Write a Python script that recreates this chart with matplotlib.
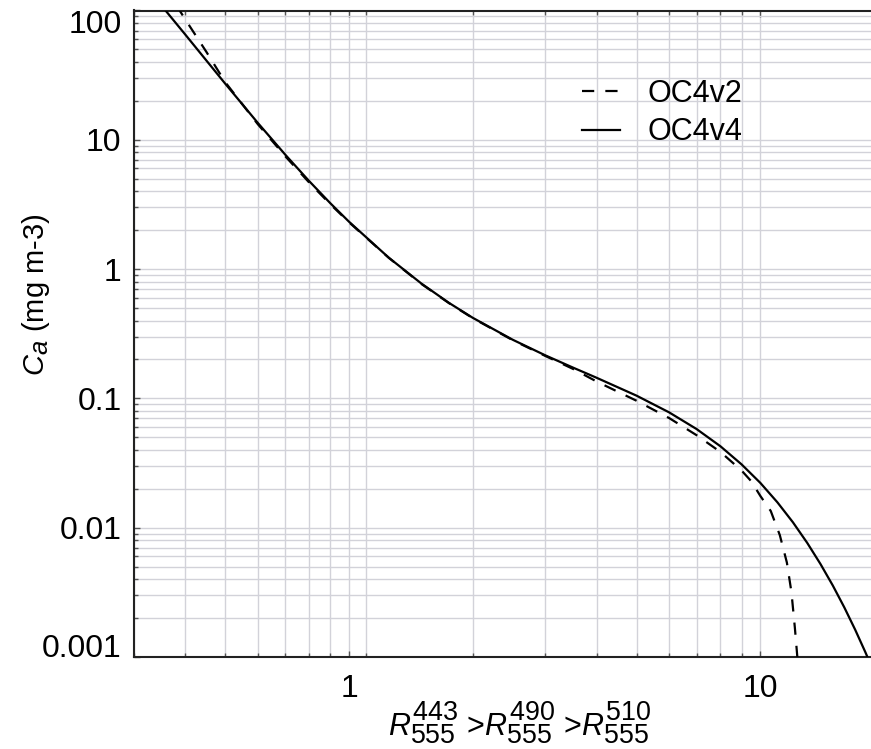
import numpy as np
import matplotlib
matplotlib.use('Agg')
import matplotlib.pyplot as plt
import matplotlib._mathtext as mathtext_internals
from matplotlib.ticker import FixedLocator, FixedFormatter, NullFormatter

plt.rcParams['font.family'] = ['Liberation Sans', 'DejaVu Sans']
plt.rcParams['mathtext.fontset'] = 'custom'
plt.rcParams['mathtext.rm'] = 'Liberation Sans'
plt.rcParams['mathtext.it'] = 'Liberation Sans:italic'
# the reference draws its sub/superscripts close to full size
mathtext_internals.SHRINK_FACTOR = 0.88

# band ratio (x) and chlorophyll (y)
ratio_v4 = [0.30, 0.35, 0.40, 0.45, 0.50, 0.60, 0.70, 0.80, 0.90, 1.00, 1.25,
            1.50, 1.75, 2.00, 2.50, 3.00, 3.50, 4.00, 5.00, 6.00, 7.00, 8.00,
            9.00, 10.0, 11.0, 12.0, 13.0, 14.0, 15.0, 16.0, 17.0, 18.0, 18.5]
chl_v4 = [195, 109, 65.0, 41.0, 27.16, 13.51, 7.66, 4.79, 3.237, 2.323, 1.223,
          0.7723, 0.5477, 0.4195, 0.2842, 0.2153, 0.1733, 0.1443, 0.1050, 0.0780,
          0.0579, 0.0426, 0.0309, 0.0222, 0.01572, 0.01101, 0.00763, 0.00524,
          0.003574, 0.002419, 0.001628, 0.001090, 0.000890]

ratio_v2 = [0.38, 0.40, 0.45, 0.50, 0.60, 0.70, 0.80, 0.90, 1.00, 1.25, 1.50,
            1.75, 2.00, 2.50, 3.00, 3.50, 4.00, 5.00, 6.00, 7.00, 8.00, 9.00,
            9.50, 10.0, 10.6, 11.15, 11.6, 11.9, 12.13, 12.3, 12.4]
chl_v2 = [110, 85.1, 47.8, 27.9, 13.2, 7.45, 4.67, 3.18, 2.30, 1.22, 0.767,
          0.545, 0.417, 0.282, 0.213, 0.1694, 0.135, 0.0959, 0.0705, 0.0519,
          0.0385, 0.0277, 0.0229, 0.0176, 0.01346, 0.00877, 0.00538, 0.00318,
          0.00169, 0.00100, 0.0005]

series_names = ['OC4v2', 'OC4v4']
x_major = [1, 10]
x_major_labels = ['1', '10']
x_minor = [0.3, 0.4, 0.5, 0.6, 0.7, 0.8, 0.9, 1.1, 2, 3, 4, 5, 6, 7, 8, 9, 20]
y_major = [0.001, 0.01, 0.1, 1, 10, 100]
y_major_labels = ['0.001', '0.01', '0.1', '1', '10', '100']

W, H = 871, 749
fig = plt.figure(figsize=(W / 100, H / 100), dpi=100)
ax = fig.add_axes([134 / W, 1 - 657 / H, (906 - 134) / W, (657 - 10.5) / H])

ax.set_xscale('log')
ax.set_yscale('log')
ax.set_xlim(0.3, 22.6)
ax.set_ylim(0.001, 100)

ax.plot(ratio_v2, chl_v2, color='black', lw=1.6, dashes=(5.5, 5.0),
        label=series_names[0], zorder=3)
ax.plot(ratio_v4, chl_v4, color='black', lw=1.6, label=series_names[1], zorder=3)

# ticks and grid
ax.xaxis.set_major_locator(FixedLocator(x_major))
ax.xaxis.set_major_formatter(FixedFormatter(x_major_labels))
ax.xaxis.set_minor_locator(FixedLocator(x_minor))
ax.xaxis.set_minor_formatter(NullFormatter())
ax.yaxis.set_major_locator(FixedLocator(y_major))
ax.yaxis.set_major_formatter(FixedFormatter(y_major_labels))
ax.yaxis.set_minor_locator(FixedLocator(
    [m * 10.0 ** e for e in range(-3, 2) for m in range(2, 10)]))
ax.yaxis.set_minor_formatter(NullFormatter())

ax.grid(True, which='both', color='#d2d2d9', lw=1.0, zorder=0)
ax.set_axisbelow(True)

ax.tick_params(which='both', direction='in', top=True, right=False,
               color='#555555', labelsize=23, labelcolor='black')
ax.tick_params(which='major', length=4, width=1)
ax.tick_params(which='minor', length=3, width=1)
ax.tick_params(axis='x', which='major', pad=12)
ax.tick_params(axis='y', which='major', pad=9)

for side in ['left', 'bottom', 'top']:
    ax.spines[side].set_color('#222222')
    ax.spines[side].set_linewidth(1.5)
ax.spines['right'].set_visible(False)

ylabels = ax.get_yticklabels()
ylabels[0].set_va('baseline')
ylabels[-1].set_va('top')

ax.set_xlabel(r'$R^{443}_{555}$ >$R^{490}_{555}$ >$R^{510}_{555}$', fontsize=22)
ax.xaxis.set_label_coords(0.5, -0.066)
ax.set_ylabel(r'$C_a$ (mg m-3)', fontsize=21)
ax.yaxis.set_label_coords(-0.106, 0.561)

ax.legend(loc='upper left', bbox_to_anchor=(582 / W, 1 - 79 / H),
          bbox_transform=fig.transFigure, frameon=False, fontsize=22,
          handlelength=1.25, handletextpad=0.9, labelspacing=0.27,
          borderpad=0, borderaxespad=0)

fig.savefig('out.png', dpi=100)
